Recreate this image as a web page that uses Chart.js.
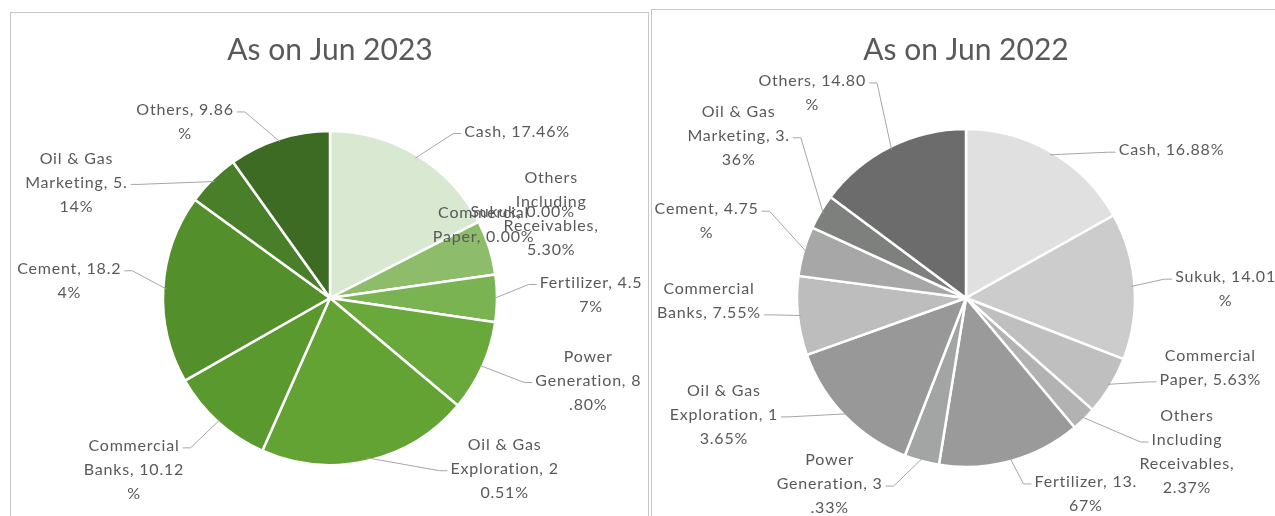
<!DOCTYPE html>
<html>
<head>
<meta charset="utf-8">
<script src="https://cdn.jsdelivr.net/npm/chart.js@4.4.0/dist/chart.umd.min.js"></script>
<style>
  body { margin: 0; background: #fff; width: 1275px; height: 516px; overflow: hidden; position: relative; }
  .panel { position: absolute; border: 1px solid #c6c6c6; background: #fff; }
  #p2023 { left: 10px; top: 12px; width: 637px; height: 520px; }
  #p2022 { left: 651px; top: 9px; width: 640px; height: 520px; }
  canvas { display: block; }
</style>
</head>
<body>
<div class="panel" id="p2023"><canvas id="c2023" width="637" height="520"></canvas></div>
<div class="panel" id="p2022"><canvas id="c2022" width="623" height="520"></canvas></div>
<script>
'use strict'

const sectors = ['Cash', 'Sukuk', 'Commercial Paper', 'Others Including Receivables', 'Fertilizer',
    'Power Generation', 'Oil & Gas Exploration', 'Commercial Banks', 'Cement', 'Oil & Gas Marketing', 'Others'];

const values2023 = [17.46, 0.00, 0.00, 5.30, 4.57, 8.80, 20.51, 10.12, 18.24, 5.14, 9.86];
const values2022 = [16.88, 14.01, 5.63, 2.37, 13.67, 3.33, 13.65, 7.55, 4.75, 3.36, 14.80];

// label text as wrapped in the picture
const labels2023 = [
    ['Cash, 17.46%'],
    ['Sukuk, 0.00%'],
    ['Commercial', 'Paper, 0.00%'],
    ['Others', 'Including', 'Receivables,', '5.30%'],
    ['Fertilizer, 4.5', '7%'],
    ['Power', 'Generation, 8', '.80%'],
    ['Oil & Gas', 'Exploration, 2', '0.51%'],
    ['Commercial', 'Banks, 10.12', '%'],
    ['Cement, 18.2', '4%'],
    ['Oil & Gas', 'Marketing, 5.', '14%'],
    ['Others, 9.86', '%']
];
const labels2022 = [
    ['Cash, 16.88%'],
    ['Sukuk, 14.01', '%'],
    ['Commercial', 'Paper, 5.63%'],
    ['Others', 'Including', 'Receivables,', '2.37%'],
    ['Fertilizer, 13.', '67%'],
    ['Power', 'Generation, 3', '.33%'],
    ['Oil & Gas', 'Exploration, 1', '3.65%'],
    ['Commercial', 'Banks, 7.55%'],
    ['Cement, 4.75', '%'],
    ['Oil & Gas', 'Marketing, 3.', '36%'],
    ['Others, 14.80', '%']
];

const greens = ['#d9e8d0', '#c3dcb2', '#a9cd8e', '#8dbd6b', '#7ab352', '#69a93c',
    '#62a333', '#5a992e', '#53902b', '#497f28', '#3e6b23'];
const grays = ['#e0e0e0', '#cccccc', '#bfbfbf', '#b2b2b2', '#9a9a9a', '#a3a4a4',
    '#989898', '#bdbdbd', '#a6a7a6', '#7e807e', '#6b6c6b'];

// label placement: offset from the slice edge [dx, dy, line the leader attaches to (-1 none)]
const place2023 = [[100, -24, 0], [44, -10, -1], [5, 3, -1], [62, -34, -1], [94, -4, 0], [106, 14, 1],
    [137, 8, 1], [-84, 48, 0], [-94, -8, 0], [-136, 3, 1], [-94, -17, 0]];
const place2022 = [[120, -2, 0], [91, 3, 0], [100, -18, 1], [103, 33, 1], [75, 33, 0], [-92, 23, 1],
    [-121, -1, 1], [-89, -15, 1], [-97, -30, 0], [-82, -76, 1], [-78, -54, 0]];

const textColor = '#595959';
const labelFont = '16px Lato';
const lineH = 24;

function makeLabelPlugin(lines, place) {
    return {
        id: 'outsideLabels',
        afterDatasetsDraw(chart) {
            const ctx = chart.ctx;
            const meta = chart.getDatasetMeta(0);
            ctx.save();
            ctx.font = labelFont;
            ctx.letterSpacing = '0.8px';
            ctx.textAlign = 'center';
            ctx.textBaseline = 'middle';
            ctx.strokeStyle = '#a6a6a6';
            ctx.lineWidth = 1;
            meta.data.forEach((arc, i) => {
                const p = arc.getProps(['x', 'y', 'startAngle', 'endAngle', 'outerRadius'], true);
                const mid = (p.startAngle + p.endAngle) / 2;
                const ax = p.x + Math.cos(mid) * p.outerRadius;
                const ay = p.y + Math.sin(mid) * p.outerRadius;
                const cx = ax + place[i][0];
                const cy = ay + place[i][1];
                const txt = lines[i];
                const top = cy - (txt.length - 1) * lineH / 2;
                const at = place[i][2];
                if (at >= 0) {
                    const ly = top + at * lineH + 2;
                    const w = ctx.measureText(txt[at]).width;
                    const dir = cx > ax ? -1 : 1;
                    const sideX = cx + dir * (w / 2 + 3);
                    const stubX = sideX + dir * 8;
                    ctx.beginPath();
                    ctx.moveTo(p.x + Math.cos(mid) * (p.outerRadius - 3), p.y + Math.sin(mid) * (p.outerRadius - 3));
                    ctx.lineTo(stubX, ly);
                    ctx.lineTo(sideX, ly);
                    ctx.stroke();
                }
                ctx.fillStyle = textColor;
                txt.forEach((t, k) => ctx.fillText(t, cx, top + k * lineH));
            });
            ctx.restore();
        }
    };
}

function makePie(id, title, values, colors, lines, place, radius, padding, titleTop) {
    return new Chart(document.getElementById(id), {
        type: 'pie',
        data: {
            labels: sectors,
            datasets: [{
                data: values,
                backgroundColor: colors,
                borderColor: '#ffffff',
                borderWidth: 2.5
            }]
        },
        options: {
            responsive: false,
            animation: false,
            radius: radius,
            layout: { padding: padding },
            plugins: {
                legend: { display: false },
                tooltip: { enabled: false },
                title: {
                    display: true,
                    text: title,
                    color: textColor,
                    font: { family: 'Lato', size: 30, weight: 'normal', lineHeight: 1.2 },
                    padding: { top: titleTop, bottom: 0 }
                }
            }
        },
        plugins: [makeLabelPlugin(lines, place)]
    });
}

makePie('c2023', 'As on Jun 2023', values2023, greens, labels2023, place2023, 167,
    { left: 1, right: 0, top: 0, bottom: 5 }, 19);
makePie('c2022', 'As on Jun 2022', values2022, grays, labels2022, place2022, 169,
    { left: 5, right: 0, top: 0, bottom: 2 }, 22);
</script>
</body>
</html>
